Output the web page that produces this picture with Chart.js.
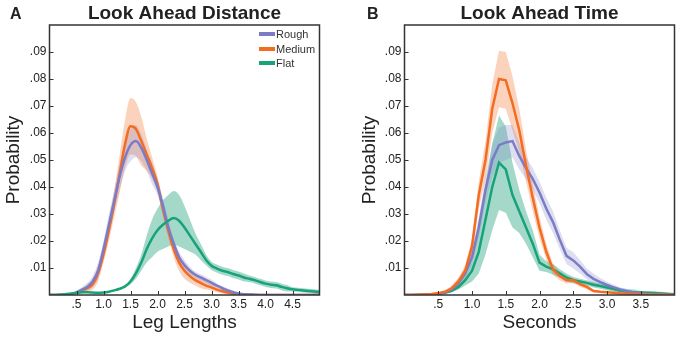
<!DOCTYPE html>
<html>
<head>
<meta charset="utf-8">
<script src="https://cdn.jsdelivr.net/npm/chart.js@4.4.1/dist/chart.umd.min.js"></script>
<style>
  body { margin: 0; background: #fff; font-family: "Liberation Sans", Arial, sans-serif; }
  #wrap { position: relative; width: 682px; height: 339px; }
  canvas { position: absolute; top: 0; }
  #chartA { left: 0; }
  #chartB { left: 341px; }
  .panel { position: absolute; top: 6px; font-size: 16px; line-height: 16px; font-weight: bold; color: #222; }
  #legend { position: absolute; left: 259px; top: 27px; font-size: 11px; color: #333; }
  .item { display: flex; align-items: center; height: 14.5px; }
  .swatch { width: 16px; height: 4px; margin-right: 1px; }
</style>
</head>
<body>
<div id="wrap">
  <canvas id="chartA" width="341" height="339"></canvas>
  <canvas id="chartB" width="341" height="339"></canvas>
  <div class="panel" style="left:10px">A</div>
  <div class="panel" style="left:367px">B</div>
  <div id="legend"></div>
</div>
<script>
// panel A: look ahead distance (leg lengths)
const xA = [0, 0.1, 0.2, 0.3, 0.4, 0.5, 0.6, 0.7, 0.8, 0.9,
  1.0, 1.1, 1.2, 1.3, 1.4, 1.5, 1.6, 1.7, 1.8, 1.9,
  2.0, 2.1, 2.2, 2.3, 2.4, 2.5, 2.6, 2.7, 2.8, 2.9,
  3.0, 3.1, 3.2, 3.3, 3.4, 3.5, 3.6, 3.7, 3.8, 3.9,
  4.0, 4.1, 4.2, 4.3, 4.4, 4.5, 4.6, 4.7, 4.8, 4.9, 5.0];
const roughA = [0, 0, 0.0001, 0.0003, 0.0005, 0.001, 0.002, 0.003, 0.005, 0.009,
  0.017, 0.026, 0.035, 0.044, 0.051, 0.0555, 0.057, 0.0545, 0.050, 0.045,
  0.040, 0.033, 0.025, 0.019, 0.014, 0.011, 0.009, 0.0075, 0.0065, 0.0055,
  0.0045, 0.0035, 0.0025, 0.0017, 0.001, 0.0006, 0.0003, 0.0002, 0.0001, 0,
  0, 0, 0, 0, 0, 0, 0, 0, 0, 0, 0];
const roughErrA = [0, 0, 0, 0, 0, 0.0005, 0.001, 0.0015, 0.002, 0.003,
  0.003, 0.004, 0.004, 0.005, 0.005, 0.006, 0.006, 0.005, 0.004, 0.004,
  0.003, 0.003, 0.003, 0.002, 0.002, 0.002, 0.0015, 0.0012, 0.0012, 0.0012,
  0.0012, 0.0008, 0.0008, 0.0008, 0.0008, 0.0004, 0.0004, 0.0004, 0.0004, 0,
  0, 0, 0, 0, 0, 0, 0, 0, 0, 0, 0];
const mediumA = [0, 0, 0.0001, 0.0002, 0.0004, 0.0008, 0.0015, 0.0025, 0.004, 0.008,
  0.015, 0.024, 0.034, 0.045, 0.056, 0.0625, 0.0615, 0.057, 0.052, 0.047,
  0.041, 0.032, 0.024, 0.017, 0.012, 0.009, 0.007, 0.0055, 0.0045, 0.0035,
  0.0028, 0.002, 0.0014, 0.0009, 0.0005, 0.0003, 0.0002, 0.0001, 0, 0,
  0, 0, 0, 0, 0, 0, 0, 0, 0, 0, 0];
const mediumErrA = [0, 0, 0, 0, 0, 0.0005, 0.001, 0.0015, 0.002, 0.003,
  0.003, 0.004, 0.005, 0.007, 0.009, 0.0105, 0.010, 0.009, 0.006, 0.004,
  0.003, 0.003, 0.003, 0.003, 0.003, 0.003, 0.0025, 0.002, 0.002, 0.0015,
  0.0012, 0.001, 0.0008, 0.0005, 0.0003, 0.0002, 0.0002, 0.0001, 0, 0,
  0, 0, 0, 0, 0, 0, 0, 0, 0, 0, 0];
const flatA = [0, 0, 0.0001, 0.0003, 0.0005, 0.0008, 0.001, 0.001, 0.0009, 0.0008,
  0.0009, 0.0012, 0.0017, 0.0023, 0.0032, 0.005, 0.008, 0.012, 0.017, 0.021,
  0.024, 0.026, 0.0275, 0.0285, 0.0275, 0.025, 0.022, 0.019, 0.016, 0.013,
  0.0108, 0.0098, 0.009, 0.0085, 0.0078, 0.0072, 0.0065, 0.006, 0.0055, 0.0048,
  0.0042, 0.0038, 0.0036, 0.003, 0.0025, 0.0021, 0.0019, 0.0017, 0.0015, 0.0013, 0.0011];
const flatErrA = [0, 0, 0, 0, 0, 0.0003, 0.0003, 0.0003, 0.0003, 0.0003,
  0.0003, 0.0003, 0.0003, 0.0003, 0.0003, 0.001, 0.002, 0.003, 0.005, 0.007,
  0.008, 0.009, 0.0095, 0.010, 0.0095, 0.008, 0.006, 0.004, 0.003, 0.002,
  0.0015, 0.0015, 0.0015, 0.0015, 0.0015, 0.0015, 0.0015, 0.0012, 0.0012, 0.0012,
  0.0012, 0.0012, 0.0012, 0.0012, 0.0012, 0.0008, 0.0008, 0.0008, 0.0008, 0.0008, 0.0008];

// panel B: look ahead time (seconds)
const xB = [0, 0.1, 0.2, 0.3, 0.4, 0.5, 0.6, 0.7, 0.8, 0.9,
  1.0, 1.1, 1.2, 1.3, 1.4, 1.5, 1.6, 1.7, 1.8, 1.9,
  2.0, 2.1, 2.2, 2.3, 2.4, 2.5, 2.6, 2.7, 2.8, 2.9,
  3.0, 3.1, 3.2, 3.3, 3.4, 3.5, 3.6, 3.7, 3.8, 3.9, 4.0];
const roughB = [0, 0, 0.0001, 0.0002, 0.0003, 0.0004, 0.001, 0.002, 0.0045, 0.008,
  0.014, 0.025, 0.039, 0.050, 0.0555, 0.0565, 0.057, 0.0515, 0.047, 0.043,
  0.038, 0.032, 0.027, 0.0205, 0.0145, 0.0128, 0.0105, 0.0078, 0.006, 0.0048,
  0.0037, 0.0028, 0.002, 0.0014, 0.0009, 0.0006, 0.0004, 0.0003, 0.0002, 0.0001, 0.0001];
const roughErrB = [0, 0, 0, 0, 0, 0, 0.0005, 0.001, 0.0015, 0.002,
  0.003, 0.004, 0.005, 0.006, 0.0065, 0.0065, 0.006, 0.005, 0.004, 0.004,
  0.004, 0.004, 0.004, 0.0035, 0.003, 0.003, 0.0025, 0.002, 0.002, 0.0015,
  0.0012, 0.001, 0.0008, 0.0006, 0.0005, 0.0003, 0.0003, 0.0003, 0.0003, 0.0003, 0.0003];
const mediumB = [0, 0, 0.0001, 0.0002, 0.0004, 0.0007, 0.0012, 0.0025, 0.005, 0.009,
  0.018, 0.037, 0.050, 0.069, 0.080, 0.0795, 0.071, 0.061, 0.048, 0.036,
  0.025, 0.016, 0.0095, 0.007, 0.0055, 0.0055, 0.004, 0.003, 0.0015, 0.0012,
  0.001, 0.0008, 0.0006, 0.0005, 0.0004, 0.0003, 0.0002, 0.0001, 0.0001, 0.0001, 0.0001];
const mediumErrB = [0, 0, 0, 0, 0, 0.0003, 0.0006, 0.001, 0.0015, 0.002,
  0.003, 0.005, 0.007, 0.009, 0.0105, 0.0105, 0.010, 0.008, 0.006, 0.005,
  0.004, 0.003, 0.002, 0.0015, 0.0012, 0.001, 0.001, 0.0008, 0.0005, 0.0003,
  0.0003, 0.0003, 0.0003, 0.0003, 0.0003, 0.0003, 0.0003, 0.0003, 0.0003, 0.0003, 0.0003];
const flatB = [0, 0, 0, 0.0001, 0.0002, 0.0004, 0.0008, 0.0015, 0.003, 0.0055,
  0.009, 0.016, 0.028, 0.040, 0.049, 0.0465, 0.037, 0.031, 0.025, 0.019,
  0.012, 0.0105, 0.0095, 0.008, 0.0065, 0.0055, 0.005, 0.0045, 0.0038, 0.0033,
  0.0028, 0.0022, 0.0016, 0.0012, 0.001, 0.0009, 0.0008, 0.0007, 0.0006, 0.0004, 0.0002];
const flatErrB = [0, 0, 0, 0, 0, 0, 0, 0.0005, 0.001, 0.002,
  0.004, 0.008, 0.013, 0.016, 0.0175, 0.016, 0.012, 0.008, 0.006, 0.005,
  0.003, 0.002, 0.002, 0.0015, 0.0015, 0.0012, 0.001, 0.001, 0.001, 0.001,
  0.001, 0.001, 0.001, 0.001, 0.001, 0.0006, 0.0006, 0.0006, 0.0006, 0.0006, 0.0006];

const seriesNames = ["Rough", "Medium", "Flat"];
const lineColors = ["#7b7bc6", "#f36c21", "#17a27a"];
const bandColors = ["rgba(124,124,200,0.25)", "rgba(242,109,33,0.3)", "rgba(27,160,120,0.4)"];

const yTicks = [0.01, 0.02, 0.03, 0.04, 0.05, 0.06, 0.07, 0.08, 0.09];
const yTickLabels = [".01", ".02", ".03", ".04", ".05", ".06", ".07", ".08", ".09"];
const xTicksA = [0.5, 1.0, 1.5, 2.0, 2.5, 3.0, 3.5, 4.0, 4.5];
const xTickLabelsA = [".5", "1.0", "1.5", "2.0", "2.5", "3.0", "3.5", "4.0", "4.5"];
const xTicksB = [0.5, 1.0, 1.5, 2.0, 2.5, 3.0, 3.5];
const xTickLabelsB = [".5", "1.0", "1.5", "2.0", "2.5", "3.0", "3.5"];

Chart.defaults.font.family = '"Liberation Sans", Arial, sans-serif';
Chart.defaults.color = "#222";

// box around the plot and short inward ticks
const framePlugin = {
  id: "frame",
  afterDraw(chart) {
    const { ctx, chartArea: a, scales } = chart;
    ctx.save();
    ctx.strokeStyle = "#333";
    ctx.lineWidth = 1;
    ctx.beginPath();
    scales.x.ticks.forEach((t) => {
      const px = Math.round(scales.x.getPixelForValue(t.value)) + 0.5;
      ctx.moveTo(px, a.bottom);
      ctx.lineTo(px, a.bottom - 4);
    });
    scales.y.ticks.forEach((t) => {
      const py = Math.round(scales.y.getPixelForValue(t.value)) + 0.5;
      ctx.moveTo(a.left, py);
      ctx.lineTo(a.left + 4, py);
    });
    ctx.stroke();
    ctx.lineWidth = 1.5;
    ctx.strokeRect(a.left, a.top, a.right - a.left, a.bottom - a.top);
    ctx.restore();
  },
};

function makeChart(id, cfg) {
  const datasets = [];
  cfg.series.forEach((s, i) => {
    const interp = cfg.smooth ? { cubicInterpolationMode: "monotone" } : { tension: 0 };
    datasets.push({
      data: cfg.x.map((v, j) => ({ x: v, y: s.mean[j] + s.err[j] })),
      borderWidth: 0,
      borderColor: "transparent",
      backgroundColor: bandColors[i],
      pointRadius: 0,
      fill: "+1",
      order: 20,
      ...interp,
    });
    datasets.push({
      data: cfg.x.map((v, j) => ({ x: v, y: Math.max(0, s.mean[j] - s.err[j]) })),
      borderWidth: 0,
      borderColor: "transparent",
      pointRadius: 0,
      fill: false,
      order: 20,
      ...interp,
    });
    datasets.push({
      label: seriesNames[i],
      data: cfg.x.map((v, j) => ({ x: v, y: s.mean[j] })),
      borderColor: lineColors[i],
      borderWidth: 2.5,
      pointRadius: 0,
      fill: false,
      order: cfg.lineOrder[i],
      ...interp,
    });
  });

  return new Chart(document.getElementById(id), {
    type: "line",
    data: { datasets },
    options: {
      responsive: false,
      animation: false,
      devicePixelRatio: 1,
      layout: { padding: cfg.padding },
      plugins: {
        legend: { display: false },
        tooltip: { enabled: false },
        title: {
          display: true,
          text: cfg.title,
          fullSize: false,
          color: "#222",
          font: { size: 19, weight: "bold" },
          padding: { top: 2.2, bottom: 0 },
        },
      },
      scales: {
        x: {
          type: "linear",
          min: 0,
          max: cfg.xMax,
          grid: { display: false, drawTicks: false },
          border: { display: false },
          afterBuildTicks: (scale) => {
            scale.ticks = cfg.xTicks.map((v) => ({ value: v }));
          },
          afterFit: (scale) => {
            scale.height = 44;
          },
          ticks: {
            padding: 2,
            font: { size: 12 },
            color: "#222",
            maxRotation: 0,
            callback: (value, index) => cfg.xTickLabels[index],
          },
          title: {
            display: true,
            text: cfg.xTitle,
            color: "#222",
            font: { size: 19 },
            padding: { top: 0, bottom: 5 },
          },
        },
        y: {
          min: 0,
          max: 0.1,
          grid: { display: false, drawTicks: false },
          border: { display: false },
          afterBuildTicks: (scale) => {
            scale.ticks = yTicks.map((v) => ({ value: v }));
          },
          afterFit: (scale) => {
            scale.width = cfg.yWidth;
          },
          ticks: {
            padding: 3,
            font: { size: 12 },
            color: "#222",
            callback: (value, index) => yTickLabels[index],
          },
          title: {
            display: true,
            text: "Probability",
            color: "#222",
            font: { size: 19 },
            padding: { top: 2, bottom: 0 },
          },
        },
      },
    },
    plugins: [framePlugin],
  });
}

makeChart("chartA", {
  title: "Look Ahead Distance",
  xTitle: "Leg Lengths",
  x: xA,
  xMax: 5,
  xTicks: xTicksA,
  xTickLabels: xTickLabelsA,
  smooth: true,
  yWidth: 49.5,
  padding: { left: 0, right: 21.5, top: 0, bottom: 0 },
  lineOrder: [2, 3, 1],
  series: [
    { mean: roughA, err: roughErrA },
    { mean: mediumA, err: mediumErrA },
    { mean: flatA, err: flatErrA },
  ],
});

makeChart("chartB", {
  title: "Look Ahead Time",
  xTitle: "Seconds",
  x: xB,
  xMax: 4,
  xTicks: xTicksB,
  xTickLabels: xTickLabelsB,
  smooth: false,
  yWidth: 48.5,
  padding: { left: 15, right: 7.5, top: 0, bottom: 0 },
  lineOrder: [2, 1, 3],
  series: [
    { mean: roughB, err: roughErrB },
    { mean: mediumB, err: mediumErrB },
    { mean: flatB, err: flatErrB },
  ],
});

// legend inside panel A
const legend = document.getElementById("legend");
seriesNames.forEach((name, i) => {
  const row = document.createElement("div");
  row.className = "item";
  const sw = document.createElement("span");
  sw.className = "swatch";
  sw.style.background = lineColors[i];
  const label = document.createElement("span");
  label.textContent = name;
  row.appendChild(sw);
  row.appendChild(label);
  legend.appendChild(row);
});
</script>
</body>
</html>
